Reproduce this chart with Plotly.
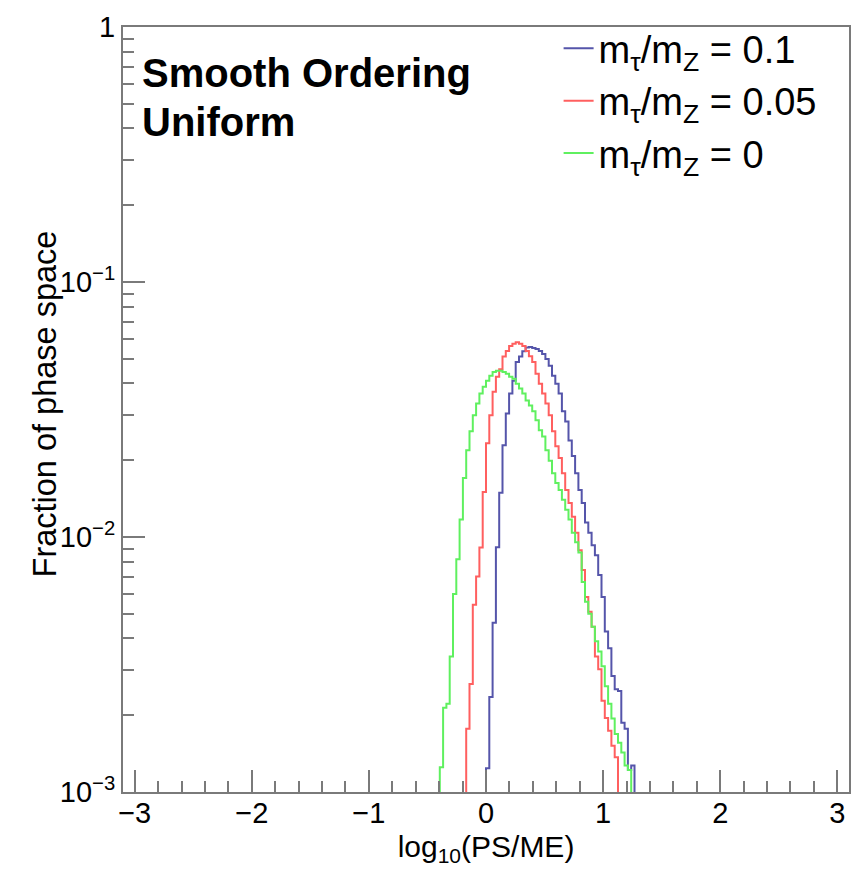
import numpy as np
import plotly.graph_objects as go

# Histogram definition (axis range of the ROOT frame)
X_MIN, X_MAX, N_BINS = -3.1, 3.1, 220

# Bin contents (fraction of phase space), starting at given bin index
blue_first_bin = 110
blue_vals = [0.00124, 0.00236, 0.00461, 0.00911, 0.0149, 0.0229, 0.0305, 0.0365, 0.0410, 0.0486,
             0.0510, 0.0535, 0.0553, 0.0556, 0.0551, 0.0546, 0.0536, 0.0522, 0.0499, 0.0469,
             0.0429, 0.0399, 0.0365, 0.0311, 0.0284, 0.0239, 0.0208, 0.0178, 0.0153, 0.0136,
             0.0114, 0.0104, 0.00928, 0.00848, 0.00709, 0.00582, 0.00426, 0.00366, 0.00285, 0.00253,
             0.00249, 0.00187, 0.00177, 0.00122, 0.00127]

red_first_bin = 104
red_vals = [0.00177, 0.00265, 0.00542, 0.0070, 0.0091, 0.0150,
            0.0233, 0.0300, 0.0371, 0.0425, 0.0455, 0.0510, 0.0536, 0.0561, 0.0572, 0.0581,
            0.0572, 0.0561, 0.0536, 0.0512, 0.0486, 0.0437, 0.0399, 0.0365, 0.0334, 0.0300,
            0.0260, 0.0227, 0.0204, 0.0178, 0.0153, 0.0136, 0.0120, 0.0104, 0.00887, 0.00742,
            0.00582, 0.00509, 0.00445, 0.00340, 0.00303, 0.00228, 0.00195, 0.00174, 0.00152, 0.00137]

green_first_bin = 96
green_vals = [0.00125, 0.00214, 0.00222, 0.00340, 0.00598, 0.00818, 0.0117, 0.01705, 0.0219, 0.0260,
              0.0300, 0.0334, 0.0365, 0.0388,
              0.0410, 0.0429, 0.0444, 0.0449, 0.0449, 0.0444, 0.0437, 0.0425, 0.0417, 0.0399,
              0.0382, 0.0365, 0.0343, 0.0328, 0.0311, 0.0287, 0.0262, 0.0248, 0.0219, 0.0199,
              0.0178, 0.0163, 0.0153, 0.0140, 0.0128, 0.0117, 0.0104, 0.00953, 0.00870, 0.00666,
              0.00557, 0.00500, 0.00445, 0.00390, 0.00356, 0.00311, 0.00260, 0.00222, 0.00194, 0.00169,
              0.00156, 0.00143, 0.00127, 0.00122]

series = [
    ("m<sub>τ</sub>/m<sub>Z</sub> = 0.1", blue_first_bin, blue_vals, "#5555aa"),
    ("m<sub>τ</sub>/m<sub>Z</sub> = 0.05", red_first_bin, red_vals, "#ff5f5f"),
    ("m<sub>τ</sub>/m<sub>Z</sub> = 0", green_first_bin, green_vals, "#5ff05f"),
]

X_TICKS = [-3, -2, -1, 0, 1, 2, 3]
Y_TICKS = [1e-3, 1e-2, 1e-1, 1]
Y_TICK_TEXT = ["10<sup>−3</sup>", "10<sup>−2</sup>", "10<sup>−1</sup>", "1"]

bin_w = (X_MAX - X_MIN) / N_BINS
edges = X_MIN + bin_w * np.arange(N_BINS + 1)
FLOOR = 1e-5  # empty bins are drawn below the frame, like ROOT on a log scale

fig = go.Figure()
for name, first, vals, color in series:
    content = np.zeros(N_BINS)
    content[first:first + len(vals)] = vals
    plot_y = np.where(content > 0, content, FLOOR)
    xs = np.append(edges[:-1], edges[-1])
    ys = np.append(plot_y, plot_y[-1])
    fig.add_trace(go.Scatter(x=xs, y=ys, mode="lines", name=name,
                             line=dict(color=color, width=2, shape="hv")))

axis_col = "#7a7a7a"
minor_y = [m * 10.0 ** e for e in (-3, -2, -1) for m in range(2, 10)]

fig.update_layout(
    width=862, height=871,
    margin=dict(l=123, r=11, t=20, b=79),
    plot_bgcolor="white", paper_bgcolor="white",
    font=dict(family="Liberation Sans, Arial, Helvetica, sans-serif", color="black"),
    showlegend=True,
    legend=dict(x=0.6, y=1.013, xanchor="left", yanchor="top",
                bgcolor="rgba(255,255,255,0)", font=dict(size=38),
                itemwidth=30, tracegroupgap=0),
    xaxis=dict(range=[X_MIN, X_MAX], tickvals=X_TICKS, ticks="inside", ticklen=22, tickwidth=2,
               tickcolor=axis_col, showline=True, linecolor=axis_col, linewidth=2, mirror=True,
               showgrid=False, zeroline=False, tickfont=dict(size=29), ticklabelstandoff=-6,
               minor=dict(ticks="inside", ticklen=11, tickwidth=2, tickcolor=axis_col,
                          dtick=0.2, tick0=0, showgrid=False),
               title=dict(text="log<sub>10</sub>(PS/ME)", font=dict(size=30), standoff=8)),
    yaxis=dict(type="log", range=[-3, 0], tickvals=Y_TICKS, ticktext=Y_TICK_TEXT,
               ticks="inside", ticklen=22, tickwidth=2, tickcolor=axis_col,
               showline=True, linecolor=axis_col, linewidth=2, mirror=True,
               showgrid=False, zeroline=False, tickfont=dict(size=29),
               minor=dict(ticks="inside", ticklen=11, tickwidth=2, tickcolor=axis_col,
                          tickvals=minor_y, showgrid=False)),
    annotations=[
        dict(text="Fraction of phase space", xref="paper", yref="paper", x=-0.107, y=0.507,
             xanchor="center", yanchor="middle", textangle=-90, showarrow=False,
             font=dict(size=32.5)),
        dict(text="<b>Smooth Ordering</b>", xref="paper", yref="paper", x=0.024, y=0.940,
             xanchor="left", yanchor="middle", showarrow=False, font=dict(size=40)),
        dict(text="<b>Uniform</b>", xref="paper", yref="paper", x=0.024, y=0.876,
             xanchor="left", yanchor="middle", showarrow=False, font=dict(size=40)),
    ],
)

fig.write_html("out.html")
